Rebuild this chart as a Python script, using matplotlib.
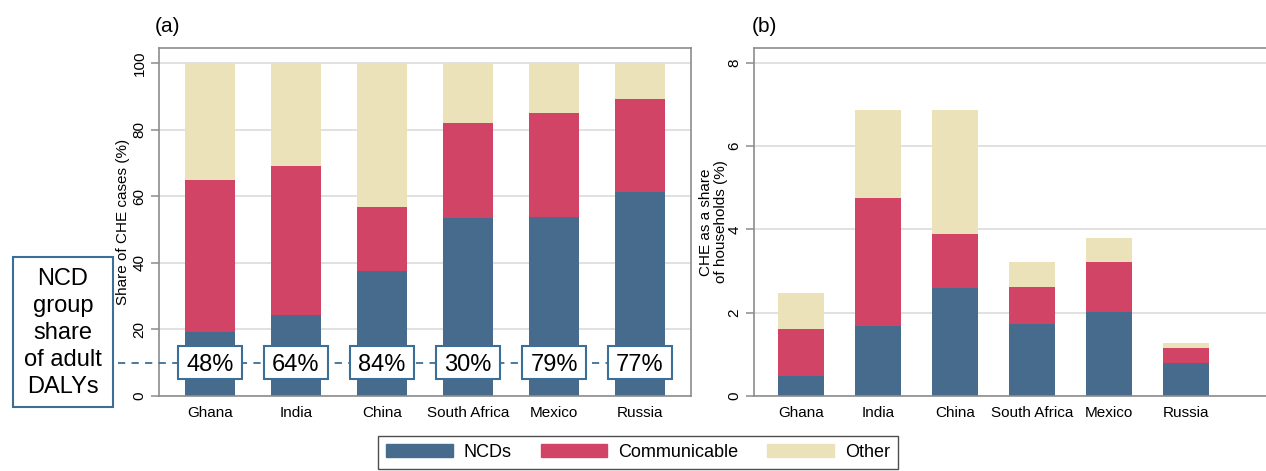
import matplotlib
matplotlib.use("Agg")
import matplotlib.pyplot as plt
from matplotlib.patches import Rectangle, Patch
import matplotlib.transforms as mtransforms
import numpy as np

plt.rcParams['font.family'] = ['Liberation Sans', 'DejaVu Sans']

countries = ["Ghana", "India", "China", "South Africa", "Mexico", "Russia"]
# Panel (a): share of CHE cases (%)
share_ncd = [19.3, 24.3, 37.6, 53.6, 53.7, 61.3]
share_comm = [45.7, 44.9, 19.1, 28.4, 31.4, 28.0]
share_other = [35.0, 30.8, 43.3, 18.0, 14.9, 10.7]
# Panel (b): CHE as a share of households (%)
hh_ncd = [0.48, 1.68, 2.60, 1.72, 2.02, 0.79]
hh_comm = [1.12, 3.07, 1.30, 0.91, 1.21, 0.37]
hh_other = [0.87, 2.12, 2.97, 0.58, 0.56, 0.12]
# NCD group share of adult DALYs
daly_labels = ["48%", "64%", "84%", "30%", "79%", "77%"]

c_ncd = "#476b8c"
c_comm = "#d14466"
c_other = "#ebe2ba"
c_box = "#3b6f98"

W, H = 1266, 471
fig = plt.figure(figsize=(W / 100, H / 100), dpi=100)

def px_ax(l, r, t, b):
    return fig.add_axes([l / W, 1 - b / H, (r - l) / W, (b - t) / H])

axA = px_ax(159, 691, 48, 396)
axB = px_ax(754, 1272, 48, 396)

def style(ax, yticks, ylim):
    ax.set_ylim(*ylim)
    ax.set_yticks(yticks)
    ax.grid(axis='y', color='#dcdcdc', lw=1.2, zorder=0)
    ax.set_axisbelow(True)
    for s in ax.spines.values():
        s.set_color('#8c8c8c')
        s.set_linewidth(1.2)
    ax.tick_params(axis='y', labelrotation=90, labelsize=11, length=6,
                   color='#8c8c8c', width=1.1, pad=3)
    for lab in ax.get_yticklabels():
        lab.set_va('center')
    ax.tick_params(axis='x', length=0, labelsize=11, pad=7)

x = np.arange(len(countries))

# Panel (a)
wA = 0.59
axA.bar(x, share_ncd, wA, color=c_ncd, zorder=2)
axA.bar(x, share_comm, wA, bottom=share_ncd, color=c_comm, zorder=2)
axA.bar(x, share_other, wA, bottom=np.add(share_ncd, share_comm), color=c_other, zorder=2)
axA.set_xlim(-0.593, 5.593)
style(axA, [0, 20, 40, 60, 80, 100], (0, 104.5))
axA.set_xticks(x)
axA.set_xticklabels(countries)
axA.set_ylabel("Share of CHE cases (%)", fontsize=11, labelpad=2)

# Panel (b)
wB = 0.60
axB.bar(x, hh_ncd, wB, color=c_ncd, zorder=2)
axB.bar(x, hh_comm, wB, bottom=hh_ncd, color=c_comm, zorder=2)
axB.bar(x, hh_other, wB, bottom=np.add(hh_ncd, hh_comm), color=c_other, zorder=2)
axB.set_xlim(-0.61, 6.12)
style(axB, [0, 2, 4, 6, 8], (0, 8.36))
axB.spines['right'].set_visible(False)
axB.set_xticks(x)
axB.set_xticklabels(countries)
axB.set_ylabel("CHE as a share\nof households (%)", fontsize=11, labelpad=0,
               linespacing=1.0)

fig.text(155 / W, 1 - 27 / H, "(a)", fontsize=15, va='center', ha='left')
fig.text(752 / W, 1 - 27 / H, "(b)", fontsize=15, va='center', ha='left')

# DALY annotation
daly_y = 10
bw, bh = 0.64, 0.33  # box size in inches (64 x 33 px)
for xi, lab in zip(x, daly_labels):
    tr = fig.dpi_scale_trans + mtransforms.ScaledTranslation(xi, daly_y, axA.transData)
    axA.add_patch(Rectangle((-bw / 2, -bh / 2), bw, bh, transform=tr, fc='white',
                            ec=c_box, lw=1.5, zorder=5, clip_on=False))
    axA.text(xi, daly_y, lab, ha='center', va='center_baseline', fontsize=17, zorder=6)

fig.canvas.draw()
x_start = axA.transData.inverted().transform(fig.transFigure.transform((118 / W, 0)))[0]
axA.plot([x_start, x[-1]], [daly_y, daly_y], ls=(0, (4, 3.5)), color=c_box, lw=1.3,
         clip_on=False, zorder=4)

fig.patches.append(Rectangle((13 / W, 1 - 407 / H), 100 / W, 150 / H,
                             transform=fig.transFigure, fc='white', ec=c_box, lw=1.5))
fig.text(63 / W, 1 - 333 / H, "NCD\ngroup\nshare\nof adult\nDALYs", ha='center',
         va='center', fontsize=17, linespacing=1.3)

handles = [Patch(fc=c_ncd, ec=c_ncd), Patch(fc=c_comm, ec=c_comm), Patch(fc=c_other, ec=c_other)]
leg = fig.legend(handles, ["NCDs", "Communicable", "Other"], ncol=3,
                 loc='upper left', bbox_to_anchor=(378 / W, 1 - 436 / H),
                 fontsize=13, frameon=True, fancybox=False, edgecolor='#222222',
                 handlelength=3.7, handleheight=0.75, handletextpad=0.6,
                 columnspacing=1.6, borderpad=0.45, borderaxespad=0)
leg.get_frame().set_linewidth(1.0)

fig.savefig("out.png", dpi=100)
